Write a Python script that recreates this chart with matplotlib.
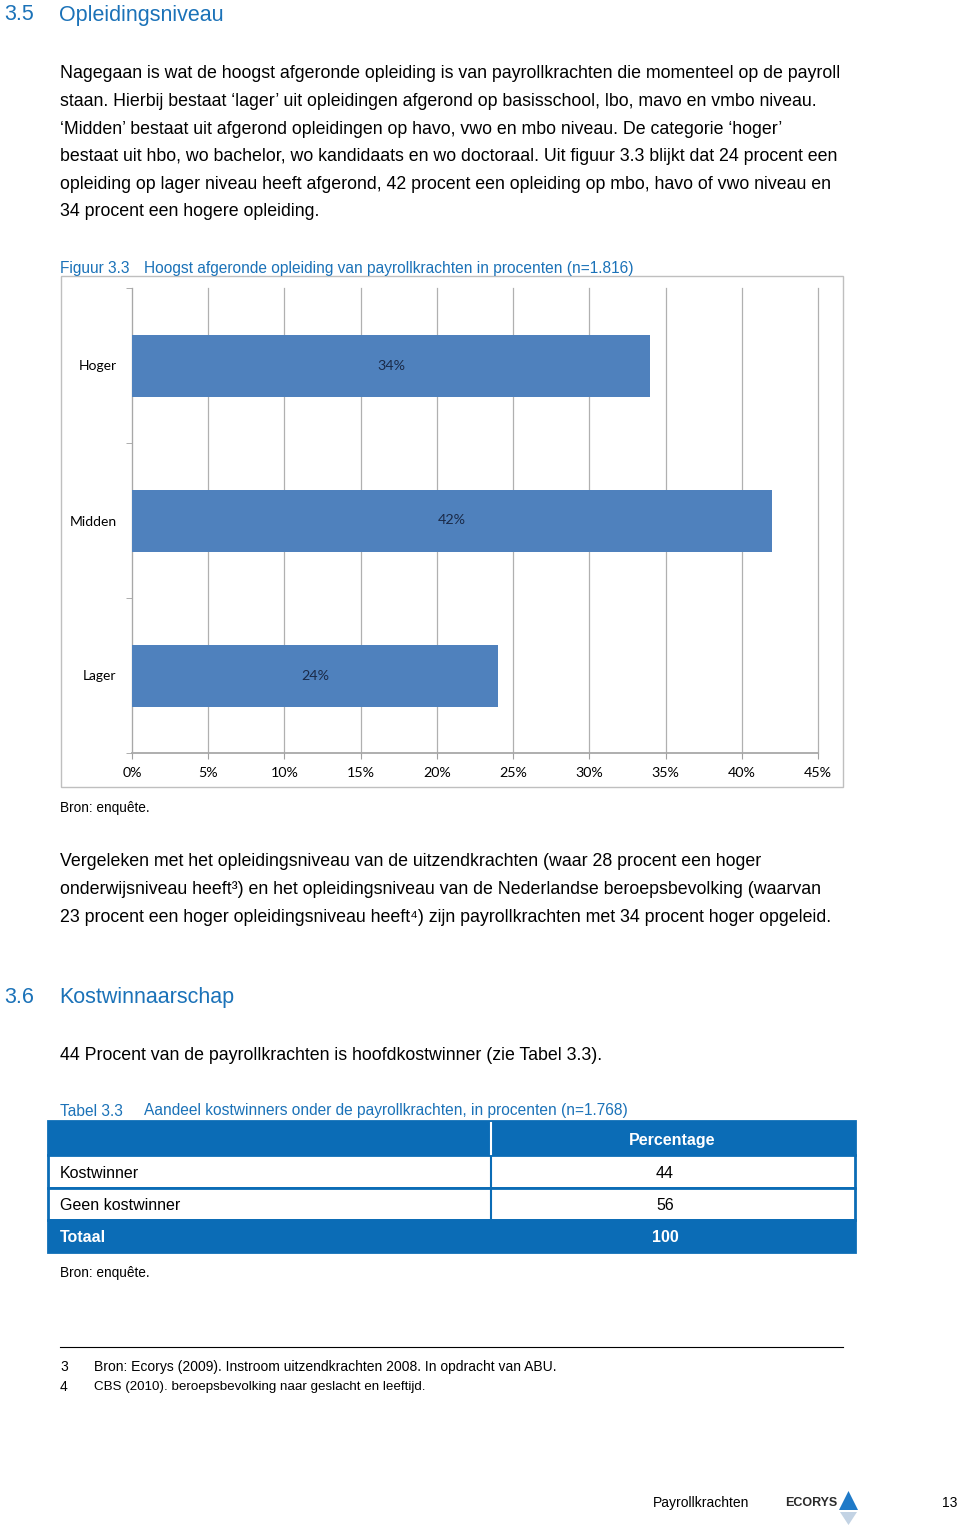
import matplotlib
matplotlib.use('Agg')
import matplotlib.pyplot as plt
from matplotlib.patches import Rectangle, Polygon
import numpy as np

matplotlib.rcParams['font.family'] = ['Liberation Sans', 'DejaVu Sans']

### data
categories = ['Lager', 'Midden', 'Hoger']
values = [24, 42, 34]
xticks = [0, 5, 10, 15, 20, 25, 30, 35, 40, 45]
xticklabels = ['%d%%' % t for t in xticks]

table_header = ['', 'Percentage']
table_rows = [['Kostwinner', '44'], ['Geen kostwinner', '56']]
table_total = ['Totaal', '100']

para1 = ["Nagegaan is wat de hoogst afgeronde opleiding is van payrollkrachten die momenteel op de payroll",
         "staan. Hierbij bestaat \u2018lager\u2019 uit opleidingen afgerond op basisschool, lbo, mavo en vmbo niveau.",
         "\u2018Midden\u2019 bestaat uit afgerond opleidingen op havo, vwo en mbo niveau. De categorie \u2018hoger\u2019",
         "bestaat uit hbo, wo bachelor, wo kandidaats en wo doctoraal. Uit figuur 3.3 blijkt dat 24 procent een",
         "opleiding op lager niveau heeft afgerond, 42 procent een opleiding op mbo, havo of vwo niveau en",
         "34 procent een hogere opleiding."]
para2 = ["Vergeleken met het opleidingsniveau van de uitzendkrachten (waar 28 procent een hoger",
         "onderwijsniveau heeft\u00b3) en het opleidingsniveau van de Nederlandse beroepsbevolking (waarvan",
         "23 procent een hoger opleidingsniveau heeft\u2074) zijn payrollkrachten met 34 procent hoger opgeleid."]

BLUE = '#1B72B8'
TBLUE = '#0B6CB6'
BAR = '#4F81BD'

W, H = 960, 1525
fig = plt.figure(figsize=(W / 100, H / 100), dpi=100)
fig.patch.set_facecolor('white')


def fx(x):
    return x / W


def fy(y):
    return 1 - y / H


def txt(x, y, s, **kw):
    kw.setdefault('va', 'center')
    kw.setdefault('fontsize', 12.8)
    fig.text(fx(x), fy(y), s, **kw)


# headings and paragraphs
txt(4, 15, '3.5', fontsize=15.5, color=BLUE)
txt(59, 15, 'Opleidingsniveau', fontsize=15.5, color=BLUE)
for i, line in enumerate(para1):
    txt(60, 74 + i * 27.6, line)

txt(60, 268, 'Figuur 3.3', fontsize=11.2, color=BLUE)
txt(144, 268, 'Hoogst afgeronde opleiding van payrollkrachten in procenten (n=1.816)', fontsize=11.2, color=BLUE)

# chart frame
fig.patches.append(Rectangle((fx(61), fy(787)), fx(843 - 61), (787 - 276) / H, transform=fig.transFigure,
                             facecolor='none', edgecolor='#BFBFBF', lw=1.0))

ax = fig.add_axes([fx(132), fy(753), fx(818 - 132), (753 - 288) / H])
ypos = np.arange(len(categories))
ax.barh(ypos, values, height=0.4, color=BAR, zorder=3)
for y, v in zip(ypos, values):
    ax.text(v / 2, y, '%d%%' % v, ha='center', va='center', fontsize=10.3, color='#1A2A48',
            family='Lato', zorder=4)
ax.set_xlim(0, 45)
ax.set_ylim(-0.5, 2.5)
ax.set_xticks(xticks)
ax.set_xticklabels(xticklabels, family='Lato', fontsize=10.3)
ax.set_yticks(ypos)
ax.set_yticklabels(categories, family='Lato', fontsize=10)
ax.tick_params(axis='y', length=0, pad=11)
ax.tick_params(axis='x', length=4, color='#A0A0A0', pad=6)
ax.set_yticks([-0.5, 0.5, 1.5, 2.5], minor=True)
ax.tick_params(axis='y', which='minor', length=4, color='#A0A0A0')
ax.grid(axis='x', color='#B0B0B0', lw=0.9, zorder=0)
for gl in ax.get_xgridlines():
    gl.set_clip_on(False)
for s in ['top', 'right']:
    ax.spines[s].set_visible(False)
for s in ['left', 'bottom']:
    ax.spines[s].set_color('#A8A8A8')
ax.spines['bottom'].set_linewidth(1.3)

txt(60, 808, 'Bron: enqu\u00eate.', fontsize=9.8)

for i, line in enumerate(para2):
    txt(60, 862 + i * 27.6, line)

txt(4, 997, '3.6', fontsize=15.5, color=BLUE)
txt(59, 997, 'Kostwinnaarschap', fontsize=15.5, color=BLUE)
txt(60, 1055, '44 Procent van de payrollkrachten is hoofdkostwinner (zie Tabel 3.3).')

txt(60, 1111, 'Tabel 3.3', fontsize=11.2, color=BLUE)
txt(144, 1111, 'Aandeel kostwinners onder de payrollkrachten, in procenten (n=1.768)', fontsize=11.2, color=BLUE)

# table
tx0, tx1, tdiv = 48, 855, 491
row_edges = [1121, 1155, 1188, 1220, 1252]
rows = [table_header] + table_rows + [table_total]
for r, cells in enumerate(rows):
    top, bot = row_edges[r], row_edges[r + 1]
    shaded = r == 0 or r == len(rows) - 1
    fc = TBLUE if shaded else 'white'
    fig.patches.append(Rectangle((fx(tx0), fy(bot)), fx(tx1 - tx0), (bot - top) / H,
                                 transform=fig.transFigure, facecolor=fc, edgecolor=TBLUE, lw=2))
    ym = (top + bot) / 2 + 2
    col = 'white' if shaded else 'black'
    wt = 'bold' if shaded else 'normal'
    txt(60, ym, cells[0], fontsize=11.5, color=col, weight=wt)
    xc = 672 if r == 0 else 665
    txt(xc, ym, cells[1], fontsize=11.5, color=col, weight=wt, ha='center')
    if r < len(rows) - 1:
        fig.lines.append(plt.Line2D([fx(tdiv), fx(tdiv)], [fy(top + 2), fy(bot - 1)],
                                    transform=fig.transFigure, color=TBLUE if not shaded else 'white', lw=1.5))

txt(60, 1273, 'Bron: enqu\u00eate.', fontsize=9.8)

# footnotes
fig.lines.append(plt.Line2D([fx(60), fx(843)], [fy(1347), fy(1347)], transform=fig.transFigure,
                            color='black', lw=0.8))
txt(60, 1367, '3', fontsize=10)
txt(94, 1367, 'Bron: Ecorys (2009). Instroom uitzendkrachten 2008. In opdracht van ABU.', fontsize=10)
txt(60, 1387, '4', fontsize=10)
txt(94, 1387, 'CBS (2010). beroepsbevolking naar geslacht en leeftijd.', fontsize=9.6)

# footer
txt(653, 1503, 'Payrollkrachten', fontsize=10)
txt(785, 1503, 'ECORYS', fontsize=9, weight='bold', color='#2A2A2A')
fig.patches.append(Polygon([(fx(839), fy(1510)), (fx(858), fy(1510)), (fx(848.5), fy(1491))],
                           closed=True, transform=fig.transFigure, facecolor='#1F7AC8', edgecolor='none'))
fig.patches.append(Polygon([(fx(840), fy(1512)), (fx(857), fy(1512)), (fx(848.5), fy(1525))],
                           closed=True, transform=fig.transFigure, facecolor='#C3D3E4', edgecolor='none'))
txt(957, 1503, '13', fontsize=10, ha='right')

fig.savefig('out.png', dpi=100)
